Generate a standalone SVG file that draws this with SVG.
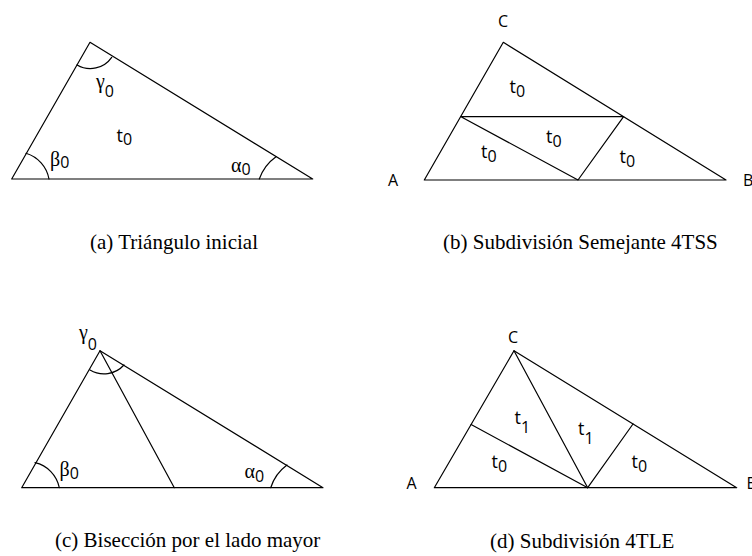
<svg xmlns="http://www.w3.org/2000/svg" width="752" height="556" viewBox="0 0 752 556">
<style>
.ln{fill:none;stroke:#000;stroke-width:1.2;stroke-linejoin:round;stroke-linecap:round}
.lbl{font-family:"Open Sans","DejaVu Sans",sans-serif;font-size:18px;fill:#000}
.sub{font-family:"Open Sans","DejaVu Sans",sans-serif;font-size:16px}
.gr{font-family:"Liberation Serif","DejaVu Serif",serif;font-size:20px;fill:#000}
.pt{font-family:"Open Sans","DejaVu Sans",sans-serif;font-size:16px;fill:#000}
.cap{font-family:"Liberation Serif","Times New Roman",serif;font-size:21px;fill:#000}
</style>
<rect width="752" height="556" fill="#fff"/>

<g id="panel-a">
  <polygon class="ln" points="11.7,179 90,42.3 312.7,179"/>
  <path class="ln" d="M77.1 64.9 A26 26 0 0 0 111.7 57.3"/>
  <path class="ln" d="M26 153.3 A33 33 0 0 1 49 179"/>
  <path class="ln" d="M259.3 179 A46 46 0 0 1 276 156.7"/>
  <text class="gr" x="96" y="88">γ<tspan class="sub" dy="8.7">0</tspan></text>
  <text class="lbl" x="116.5" y="141.5">t<tspan class="sub" dy="3.5">0</tspan></text>
  <text class="gr" x="50" y="166">β<tspan class="sub" dy="2">0</tspan></text>
  <text class="gr" x="231" y="171.7">α<tspan class="sub" dy="3.3">0</tspan></text>
  <text class="cap" x="90" y="249">(a) Triángulo inicial</text>
</g>

<g id="panel-b">
  <polygon class="ln" points="424.3,180 503.3,42.3 726,180"/>
  <polyline class="ln" points="461,116.7 623.6,116.7 578,180 461,116.7"/>
  <text class="pt" x="498" y="26.7">C</text>
  <text class="pt" x="388" y="185.5">A</text>
  <text class="pt" x="743" y="185.5">B</text>
  <text class="lbl" x="509.5" y="93">t<tspan class="sub" dy="3.5">0</tspan></text>
  <text class="lbl" x="546" y="143">t<tspan class="sub" dy="3.5">0</tspan></text>
  <text class="lbl" x="481" y="158">t<tspan class="sub" dy="3.5">0</tspan></text>
  <text class="lbl" x="619.5" y="163">t<tspan class="sub" dy="3.5">0</tspan></text>
  <text class="cap" x="443" y="249">(b) Subdivisión Semejante 4TSS</text>
</g>

<g id="panel-c">
  <polygon class="ln" points="21.7,487.7 100,350.7 323,487.7"/>
  <line class="ln" x1="100" y1="350.7" x2="174.3" y2="487.7"/>
  <path class="ln" d="M90 370 A27 27 0 0 0 124 365"/>
  <path class="ln" d="M35 462.7 A32 32 0 0 1 59.3 487.7"/>
  <path class="ln" d="M270.7 487.7 A45 45 0 0 1 287 465"/>
  <text class="gr" x="79" y="339">γ<tspan class="sub" dy="11">0</tspan></text>
  <text class="gr" x="59.5" y="476">β<tspan class="sub" dy="3">0</tspan></text>
  <text class="gr" x="244.5" y="478">α<tspan class="sub" dy="4">0</tspan></text>
  <text class="cap" x="55" y="547">(c) Bisección por el lado mayor</text>
</g>

<g id="panel-d">
  <polygon class="ln" points="434.3,487.7 514,350.7 736.7,487.7"/>
  <line class="ln" x1="514" y1="350.7" x2="587.7" y2="487.7"/>
  <line class="ln" x1="471.1" y1="424.5" x2="587.7" y2="487.7"/>
  <line class="ln" x1="633" y1="424" x2="587.7" y2="487.7"/>
  <text class="pt" x="508" y="343.3">C</text>
  <text class="pt" x="406.5" y="488.5">A</text>
  <text class="pt" x="746.5" y="488.5">B</text>
  <text class="lbl" x="514.5" y="423.5">t<tspan class="sub" dy="9">1</tspan></text>
  <text class="lbl" x="578" y="435">t<tspan class="sub" dy="9">1</tspan></text>
  <text class="lbl" x="491.5" y="468">t<tspan class="sub" dy="3.5">0</tspan></text>
  <text class="lbl" x="631.5" y="468">t<tspan class="sub" dy="3.5">0</tspan></text>
  <text class="cap" x="490" y="548">(d) Subdivisión 4TLE</text>
</g>
</svg>
